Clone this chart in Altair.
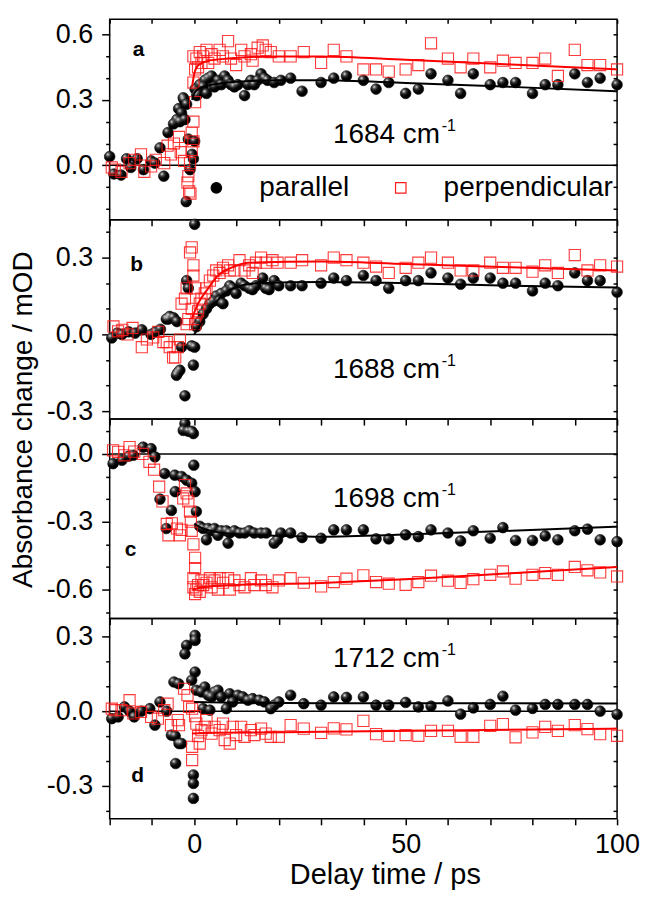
import altair as alt
import pandas as pd

FONT = "Liberation Sans"
SERIES = ["parallel", "perpendicular"]
LETTERS = ["a", "b", "c", "d"]
WAVENUMBERS = ["1684", "1688", "1698", "1712"]
X_TICKS = [-20, -10, 0, 10, 20, 30, 40, 50, 60, 70, 80, 90, 100]

LONG_T = [30, 33, 36, 40, 43, 46, 50, 53, 56, 60, 63, 66, 70, 73, 76, 80, 83, 86, 90, 93, 96, 100]

# ---------------- panel a (1684 cm-1) ----------------
A_PAR_EARLY = [
    (-20.0, 0.04), (-19.0, -0.04), (-17.3, -0.045), (-16.0, 0.03), (-15.0, -0.01), (-13.5, 0.03),
    (-12.0, -0.02), (-10.2, 0.02), (-9.3, 0.01), (-8.1, 0.08), (-7.2, -0.05), (-6.2, 0.15),
    (-4.9, 0.19), (-4.1, 0.21), (-3.7, 0.26), (-3.4, 0.20), (-3.0, 0.24), (-2.6, 0.31), (-2.4, 0.30),
    (-2.2, 0.21), (-1.9, -0.167), (-1.8, 0.28), (-1.4, 0.12), (-1.0, -0.02), (-0.5, 0.05), (-0.2, 0.03),
    (0.1, 0.11), (0.2, 0.35), (0.6, 0.32), (0.9, 0.33), (1.3, 0.37), (2.1, 0.36), (2.5, 0.39),
    (2.9, 0.33), (3.3, 0.40), (4.1, 0.41), (4.8, 0.36), (5.6, 0.39), (6.4, 0.37), (7.2, 0.41),
    (8.0, 0.39), (8.7, 0.37), (9.5, 0.36), (10.3, 0.37), (11.9, 0.32), (12.7, 0.37), (13.4, 0.39),
    (14.2, 0.37), (15.0, 0.39), (15.8, 0.42), (16.6, 0.40), (17.3, 0.39), (18.9, 0.38), (20.5, 0.39),
    (22.8, 0.40), (25.5, 0.34),
]
A_PAR_LONG = [0.38, 0.40, 0.41, 0.39, 0.35, 0.38, 0.33, 0.35, 0.42, 0.39, 0.33, 0.42, 0.37, 0.38,
              0.38, 0.33, 0.37, 0.37, 0.42, 0.38, 0.40, 0.37]
A_PERP_EARLY = [
    (-19.5, -0.01), (-18.8, -0.02), (-17.2, -0.03), (-15.3, 0.01), (-14.2, 0.025), (-12.6, 0.05),
    (-11.8, -0.03), (-10.2, -0.005), (-9.1, 0.025), (-7.1, 0.01), (-6.3, 0.09), (-5.5, 0.05),
    (-4.8, 0.10), (-3.6, 0.13), (-3.2, 0.06), (-2.4, 0.02), (-1.6, -0.08), (-1.4, -0.05), (-1.2, -0.12),
    (-1.0, 0.01), (-0.9, -0.13), (-0.6, 0.15), (-0.6, 0.07), (-0.2, 0.11), (-0.2, 0.20), (-0.2, 0.38),
    (-0.2, 0.50), (0.2, 0.29), (0.2, 0.44), (0.5, 0.49), (0.9, 0.45), (1.3, 0.52), (1.7, 0.47),
    (2.1, 0.50), (2.9, 0.53), (3.3, 0.47), (4.1, 0.51), (4.8, 0.49), (6.0, 0.53), (6.8, 0.50),
    (8.0, 0.57), (8.7, 0.49), (9.9, 0.46), (11.1, 0.53), (11.9, 0.50), (13.4, 0.51), (13.8, 0.48),
    (15.0, 0.54), (16.2, 0.55), (16.9, 0.53), (18.1, 0.52), (20.0, 0.50), (22.8, 0.50), (25.9, 0.52),
]
A_PERP_LONG = [0.47, 0.53, 0.50, 0.44, 0.44, 0.43, 0.44, 0.46, 0.56, 0.49, 0.45, 0.49, 0.45, 0.48,
               0.47, 0.47, 0.49, 0.41, 0.53, 0.46, 0.46, 0.44]
A_PAR_FIT = [(-0.5, 0.30), (0, 0.33), (1, 0.35), (3, 0.365), (6, 0.375), (10, 0.383), (20, 0.39),
             (30, 0.39), (50, 0.378), (75, 0.36), (100, 0.34)]
A_PERP_FIT = [(-0.5, 0.36), (0, 0.42), (1, 0.46), (3, 0.478), (8, 0.49), (20, 0.50), (30, 0.50),
              (50, 0.485), (75, 0.463), (100, 0.44)]

# ---------------- panel b (1688 cm-1) ----------------
B_PAR_EARLY = [
    (-19.5, -0.014), (-18.2, 0.005), (-17.1, 0.0), (-15.5, 0.01), (-14.0, 0.005), (-12.4, 0.018),
    (-10.2, 0.0), (-9.2, 0.01), (-8.0, 0.02), (-6.6, 0.06), (-6.1, 0.06), (-5.8, 0.07), (-4.9, 0.065),
    (-4.2, -0.16), (-4.1, 0.05), (-3.9, -0.15), (-3.4, -0.14), (-3.0, -0.05), (-2.2, -0.24),
    (-1.8, 0.21), (-1.4, 0.18), (-0.6, -0.045), (-0.2, -0.12), (0.1, -0.05), (0.1, 0.43), (0.5, 0.03),
    (1.3, 0.05), (2.1, 0.08), (2.9, 0.10), (3.7, 0.12), (4.5, 0.13), (5.2, 0.15), (6.0, 0.13),
    (6.4, 0.16), (6.8, 0.12), (7.6, 0.17), (8.4, 0.19), (9.1, 0.18), (9.9, 0.16), (11.1, 0.20),
    (11.9, 0.19), (13.0, 0.18), (13.8, 0.175), (14.6, 0.19), (16.2, 0.22), (16.9, 0.18), (17.7, 0.175),
    (18.9, 0.21), (20.0, 0.19), (22.8, 0.19), (25.5, 0.19),
]
B_PAR_LONG = [0.20, 0.22, 0.21, 0.23, 0.21, 0.18, 0.21, 0.21, 0.24, 0.22, 0.196, 0.22, 0.22, 0.20,
              0.20, 0.17, 0.20, 0.19, 0.24, 0.21, 0.21, 0.165]
B_PERP_EARLY = [
    (-19.1, 0.031), (-18.0, 0.012), (-17.0, 0.018), (-15.8, 0.0), (-14.6, 0.025), (-12.4, -0.05),
    (-11.2, -0.02), (-9.7, -0.012), (-8.5, 0.01), (-7.3, -0.03), (-6.5, -0.03), (-5.8, -0.05),
    (-5.0, -0.09), (-4.5, -0.09), (-3.9, -0.05), (-3.4, -0.02), (-3.0, 0.12), (-2.2, 0.14),
    (-1.8, 0.18), (-1.8, 0.04), (-1.4, 0.06), (-1.0, 0.32), (-0.6, 0.34), (-0.6, 0.10), (-0.2, 0.27),
    (-0.2, 0.23), (0.2, 0.18), (0.2, 0.04), (0.5, 0.06), (0.9, 0.09), (1.3, 0.12), (1.7, 0.14),
    (2.5, 0.16), (2.9, 0.18), (3.7, 0.21), (4.5, 0.23), (5.2, 0.25), (6.0, 0.24), (6.8, 0.26),
    (8.0, 0.27), (8.4, 0.25), (9.5, 0.25), (10.7, 0.29), (11.9, 0.25), (13.0, 0.27), (13.8, 0.24),
    (14.6, 0.28), (15.8, 0.30), (16.9, 0.28), (18.5, 0.29), (19.7, 0.28), (22.8, 0.28), (25.5, 0.29),
]
B_PERP_LONG = [0.27, 0.30, 0.29, 0.28, 0.265, 0.24, 0.26, 0.28, 0.30, 0.28, 0.25, 0.25, 0.28, 0.26,
               0.26, 0.245, 0.27, 0.24, 0.31, 0.25, 0.27, 0.265]
B_PAR_FIT = [(0, 0.0), (2.5, 0.065), (4.8, 0.12), (7.2, 0.16), (10, 0.185), (15, 0.20), (30, 0.205),
             (50, 0.20), (75, 0.19), (100, 0.183)]
B_PERP_FIT = [(-0.6, 0.06), (0.9, 0.12), (3.3, 0.18), (5.6, 0.23), (8.7, 0.26), (12.7, 0.28),
              (30, 0.285), (50, 0.275), (75, 0.262), (100, 0.25)]

# ---------------- panel c (1698 cm-1) ----------------
C_PAR_EARLY = [
    (-19.2, -0.043), (-17.1, -0.028), (-15.5, -0.01), (-14.4, -0.006), (-12.1, 0.03), (-10.2, 0.023),
    (-9.3, -0.013), (-8.1, -0.20), (-7.0, -0.087), (-6.6, -0.33), (-5.4, -0.25), (-4.6, -0.094),
    (-4.5, -0.167), (-3.0, -0.10), (-2.6, 0.104), (-2.2, 0.134), (-1.8, -0.116), (-1.4, 0.10),
    (-0.6, -0.13), (-0.6, 0.10), (-0.2, 0.09), (-0.1, -0.05), (0.2, -0.167), (0.5, -0.255),
    (1.3, -0.32), (2.1, -0.33), (2.9, -0.38), (3.3, -0.33), (4.1, -0.34), (4.8, -0.33), (5.6, -0.36),
    (6.4, -0.34), (7.6, -0.34), (8.0, -0.395), (8.4, -0.35), (9.5, -0.34), (10.7, -0.35), (11.9, -0.35),
    (13.0, -0.34), (14.2, -0.35), (15.8, -0.35), (17.0, -0.35), (18.9, -0.395), (19.7, -0.38),
    (20.5, -0.35), (22.8, -0.35), (25.5, -0.37),
]
C_PAR_LONG = [-0.373, -0.336, -0.336, -0.336, -0.376, -0.376, -0.358, -0.366, -0.336, -0.35, -0.385,
              -0.34, -0.373, -0.326, -0.383, -0.383, -0.363, -0.38, -0.34, -0.333, -0.38, -0.388]
C_PERP_EARLY = [
    (-19.2, 0.016), (-18.0, 0.009), (-16.5, -0.006), (-15.3, 0.03), (-14.2, 0.01), (-12.2, 0.0),
    (-10.6, -0.035), (-9.5, -0.07), (-8.3, -0.145), (-7.5, -0.21), (-6.5, -0.31), (-6.1, -0.36),
    (-5.3, -0.307), (-4.1, -0.33), (-3.4, -0.36), (-3.0, -0.336), (-2.6, -0.197), (-2.2, -0.138),
    (-1.8, -0.175), (-1.4, -0.21), (-1.0, -0.255), (-0.8, -0.30), (-0.6, -0.34), (-0.2, -0.40),
    (0.2, -0.46), (0.2, -0.505), (-0.2, -0.55), (-0.2, -0.59), (0.2, -0.62), (0.5, -0.60), (0.9, -0.58),
    (1.3, -0.61), (1.7, -0.56), (2.1, -0.58), (2.9, -0.57), (3.7, -0.55), (4.1, -0.59), (4.8, -0.56),
    (5.6, -0.60), (6.0, -0.55), (6.8, -0.57), (8.0, -0.55), (8.4, -0.60), (9.5, -0.56), (10.7, -0.58),
    (11.9, -0.59), (13.4, -0.55), (14.2, -0.58), (15.8, -0.56), (16.9, -0.58), (18.5, -0.59),
    (20.0, -0.56), (22.8, -0.55), (25.9, -0.57),
]
C_PERP_LONG = [-0.586, -0.567, -0.552, -0.537, -0.567, -0.574, -0.579, -0.567, -0.539, -0.561, -0.571,
               -0.554, -0.535, -0.52, -0.552, -0.535, -0.527, -0.535, -0.50, -0.515, -0.524, -0.542]
C_PAR_FIT = [(0, -0.31), (2, -0.33), (5, -0.345), (10, -0.355), (20, -0.362), (30, -0.366),
             (50, -0.357), (75, -0.34), (100, -0.322)]
C_PERP_FIT = [(-0.3, -0.60), (2, -0.59), (10, -0.58), (30, -0.571), (50, -0.555), (75, -0.528),
              (100, -0.50)]

# ---------------- panel d (1712 cm-1) ----------------
D_PAR_EARLY = [
    (-19.5, -0.03), (-18.0, -0.023), (-16.5, 0.017), (-15.3, 0.0), (-14.2, -0.023), (-12.5, 0.0),
    (-10.5, 0.01), (-9.3, -0.056), (-8.1, 0.037), (-6.5, 0.0), (-5.4, -0.096), (-4.8, 0.117),
    (-4.4, -0.21), (-4.5, -0.10), (-3.7, 0.11), (-3.6, -0.13), (-3.0, -0.13), (-2.2, 0.23),
    (-1.8, 0.264), (-0.6, 0.124), (-0.2, -0.256), (-0.2, -0.29), (-0.2, -0.35), (0.2, 0.304),
    (0.2, 0.284), (0.2, 0.157), (0.5, 0.084), (1.7, 0.077), (2.1, 0.01), (2.5, 0.097), (3.3, 0.064),
    (3.7, 0.004), (4.1, 0.057), (4.8, 0.077), (5.6, 0.084), (6.4, 0.057), (7.6, 0.01), (8.4, 0.07),
    (9.1, 0.037), (10.3, 0.064), (11.5, 0.057), (12.7, 0.044), (13.8, 0.05), (15.4, 0.044),
    (16.6, 0.037), (18.1, 0.01), (18.9, 0.024), (20.0, 0.037), (22.8, 0.064), (25.9, 0.03),
]
D_PAR_LONG = [0.024, 0.057, 0.055, 0.057, 0.024, 0.024, 0.035, 0.017, 0.02, 0.041, -0.012, 0.013,
              0.027, 0.06, 0.004, 0.011, 0.027, 0.027, 0.027, 0.027, 0.0, -0.013]
D_PERP_EARLY = [
    (-19.5, 0.01), (-18.8, 0.004), (-17.2, 0.004), (-15.3, 0.044), (-14.4, -0.009), (-12.6, -0.003),
    (-10.2, -0.023), (-8.6, -0.03), (-7.1, 0.004), (-6.3, 0.03), (-5.5, -0.056), (-3.9, -0.036),
    (-3.6, -0.056), (-2.4, 0.09), (-1.6, 0.064), (-1.2, 0.017), (-0.5, 0.01), (-0.5, -0.143),
    (-0.5, -0.196), (0.2, -0.02), (0.5, -0.05), (0.9, -0.10), (1.3, -0.13), (1.7, -0.076),
    (2.5, -0.063), (2.9, -0.036), (4.1, -0.09), (4.8, -0.063), (6.0, -0.076), (6.8, -0.05),
    (7.2, -0.116), (8.4, -0.13), (9.1, -0.063), (9.9, -0.096), (11.1, -0.063), (11.9, -0.103),
    (13.4, -0.076), (14.2, -0.096), (15.8, -0.07), (16.9, -0.09), (18.1, -0.103), (20.0, -0.103),
    (22.8, -0.056), (25.9, -0.07),
]
D_PERP_LONG = [-0.087, -0.069, -0.073, -0.039, -0.092, -0.099, -0.096, -0.099, -0.079, -0.079, -0.103,
               -0.103, -0.059, -0.052, -0.105, -0.085, -0.063, -0.079, -0.056, -0.072, -0.092, -0.099]
D_PAR_FIT = [(0, 0.037), (10, 0.034), (30, 0.032), (100, 0.031)]
D_PERP_FIT = [(-0.5, -0.09), (5, -0.087), (30, -0.083), (100, -0.07)]

# axis domains and ticks per panel
Y_DOMAINS = [[-0.25, 0.67], [-0.331, 0.448], [-0.728, 0.154], [-0.432, 0.372]]
Y_MAJOR = [[0.0, 0.3, 0.6], [-0.3, 0.0, 0.3], [-0.6, -0.3, 0.0], [-0.3, 0.0, 0.3]]
Y_MINOR = [[-0.2, -0.1, 0.1, 0.2, 0.4, 0.5],
           [-0.2, -0.1, 0.1, 0.2, 0.4],
           [-0.7, -0.5, -0.4, -0.2, -0.1, 0.1],
           [-0.4, -0.2, -0.1, 0.1, 0.2]]
HEIGHTS = [201, 200, 200, 201]
WIDTH = 509
TEXT_BASE = [124, 159, 88, 49]
LETTER_POS = [(29, 31), (27, 45), (21, 131), (28, 158)]

PANEL_DATA = [
    (A_PAR_EARLY, A_PAR_LONG, A_PERP_EARLY, A_PERP_LONG, A_PAR_FIT, A_PERP_FIT),
    (B_PAR_EARLY, B_PAR_LONG, B_PERP_EARLY, B_PERP_LONG, B_PAR_FIT, B_PERP_FIT),
    (C_PAR_EARLY, C_PAR_LONG, C_PERP_EARLY, C_PERP_LONG, C_PAR_FIT, C_PERP_FIT),
    (D_PAR_EARLY, D_PAR_LONG, D_PERP_EARLY, D_PERP_LONG, D_PAR_FIT, D_PERP_FIT),
]

SPHERE_HIGHLIGHT = alt.RadialGradient(
    gradient="radial",
    stops=[alt.GradientStop(color="rgba(255,255,255,0.95)", offset=0),
           alt.GradientStop(color="rgba(200,200,200,0.35)", offset=0.35),
           alt.GradientStop(color="rgba(0,0,0,0)", offset=1)],
    x1=0.33, y1=0.3, r1=0, x2=0.33, y2=0.3, r2=0.55,
)


def series_frame(early, long_vals, name):
    rows = [{"t": t, "v": v, "series": name} for t, v in early]
    rows += [{"t": t, "v": v, "series": name} for t, v in zip(LONG_T, long_vals)]
    return pd.DataFrame(rows)


def fit_frame(fit):
    return pd.DataFrame([{"t": t, "v": v} for t, v in fit])


def build_panel(i):
    par_e, par_l, perp_e, perp_l, par_fit, perp_fit = PANEL_DATA[i]
    df_par = series_frame(par_e, par_l, SERIES[0])
    df_perp = series_frame(perp_e, perp_l, SERIES[1])
    xs = alt.Scale(domain=[-20, 100], nice=False, zero=False)
    ys = alt.Scale(domain=Y_DOMAINS[i], nice=False, zero=False)
    last = i == 3

    if last:
        x_main = alt.Axis(
            orient="bottom", values=X_TICKS, tickSize=6, labels=True, labelPadding=7, labelFlush=False,
            labelExpr="datum.value % 50 === 0 ? format(datum.value, 'd') : ''",
            title="Delay time / ps", titleFontSize=29,
            titleX=276, titleY=65, titleBaseline="alphabetic", titleAlign="center",
        )
    else:
        x_main = alt.Axis(orient="bottom", values=X_TICKS, tickSize=6, labels=False, title=None)
    y_main_kwargs = dict(
        orient="left", values=Y_MAJOR[i], tickSize=8, labelPadding=9, labelFlush=False,
        labelExpr="(datum.value < -0.0001 ? '-' : '') + format(abs(datum.value), '.1f')",
        title=None,
    )
    if i == 1:
        y_main_kwargs.update(title="Absorbance change / mOD", titleX=-86, titleY=200,
                             titleBaseline="middle", titleAlign="center", titleAngle=270)
    y_main = alt.Axis(**y_main_kwargs)
    y_minor = alt.Axis(orient="left", values=Y_MINOR[i], tickSize=4, labels=False, title=None)
    y_right = alt.Axis(orient="right", values=Y_MAJOR[i] + Y_MINOR[i], tickSize=4, offset=-4,
                       labels=False, title=None)
    x_top = alt.Axis(orient="top", values=X_TICKS, tickSize=4, offset=-4, labels=False, title=None)

    if i == 0:
        legend = alt.Legend(
            title=None, orient="none", legendX=93, legendY=155, direction="horizontal",
            labelFont=FONT, labelFontSize=28, labelColor="black", symbolSize=110, labelLimit=0,
            labelOffset=29, columnPadding=37, symbolStrokeWidth=1.2, padding=0,
        )
    else:
        legend = None
    shape = alt.Shape("series:N", scale=alt.Scale(domain=SERIES, range=["circle", "square"]), legend=legend)
    fill = alt.Fill("series:N", scale=alt.Scale(domain=SERIES, range=["black", "transparent"]), legend=legend)
    stroke = alt.Stroke("series:N", scale=alt.Scale(domain=SERIES, range=["black", "#ff1a1a"]), legend=legend)

    zero = alt.Chart(pd.DataFrame({"z": [0.0]})).mark_rule(color="black", strokeWidth=1.5).encode(
        y=alt.Y("z:Q", scale=ys, axis=None))
    par = alt.Chart(df_par).mark_point(size=115, strokeWidth=0.6, opacity=1).encode(
        x=alt.X("t:Q", scale=xs, axis=x_main),
        y=alt.Y("v:Q", scale=ys, axis=y_main),
        shape=shape, fill=fill, stroke=stroke)
    hi = alt.Chart(df_par).mark_circle(size=115, fill=SPHERE_HIGHLIGHT, opacity=1, strokeWidth=0).encode(
        x=alt.X("t:Q", scale=xs, axis=None),
        y=alt.Y("v:Q", scale=ys, axis=None))
    perp = alt.Chart(df_perp).mark_point(size=125, strokeWidth=1.1, opacity=0.85).encode(
        x=alt.X("t:Q", scale=xs, axis=None),
        y=alt.Y("v:Q", scale=ys, axis=y_minor),
        shape=shape, fill=fill, stroke=stroke)
    fit_par = alt.Chart(fit_frame(par_fit)).mark_line(color="black", strokeWidth=2, interpolate="monotone").encode(
        x=alt.X("t:Q", scale=xs, axis=x_top if i == 0 else None),
        y=alt.Y("v:Q", scale=ys, axis=y_right))
    fit_perp = alt.Chart(fit_frame(perp_fit)).mark_line(color="red", strokeWidth=2, interpolate="monotone").encode(
        x=alt.X("t:Q", scale=xs, axis=None),
        y=alt.Y("v:Q", scale=ys, axis=None))

    label_df = pd.DataFrame({"main": [WAVENUMBERS[i] + " cm"], "sup": ["-1"], "letter": [LETTERS[i]]})
    base = TEXT_BASE[i]
    wn = alt.Chart(label_df).mark_text(align="left", baseline="alphabetic", font=FONT, fontSize=28,
                                       color="black").encode(text="main:N", x=alt.value(224), y=alt.value(base))
    sup = alt.Chart(label_df).mark_text(align="left", baseline="alphabetic", font=FONT, fontSize=16,
                                        color="black").encode(text="sup:N", x=alt.value(333), y=alt.value(base - 12))
    lx, ly = LETTER_POS[i]
    letter = alt.Chart(label_df).mark_text(align="center", baseline="middle", font=FONT, fontSize=21,
                                           fontWeight="bold", color="black").encode(
        text="letter:N", x=alt.value(lx), y=alt.value(ly))

    return alt.layer(zero, par, hi, perp, fit_par, fit_perp, wn, sup, letter).properties(
        width=WIDTH, height=HEIGHTS[i]).resolve_axis(x="independent", y="independent")


chart = alt.vconcat(*[build_panel(i) for i in range(4)], spacing=0, bounds="flush").configure_view(
    stroke="black", strokeWidth=1.5
).configure_axis(
    labelFont=FONT, titleFont=FONT, labelFontSize=27, titleFontSize=28, labelColor="black",
    titleColor="black", tickColor="black", tickWidth=1.5, domain=False, grid=False,
    titleFontWeight="normal",
).properties(padding={"left": 1, "top": 8, "right": 0, "bottom": 0})

chart.save("out.html", embed_options={"renderer": "svg", "actions": False})
